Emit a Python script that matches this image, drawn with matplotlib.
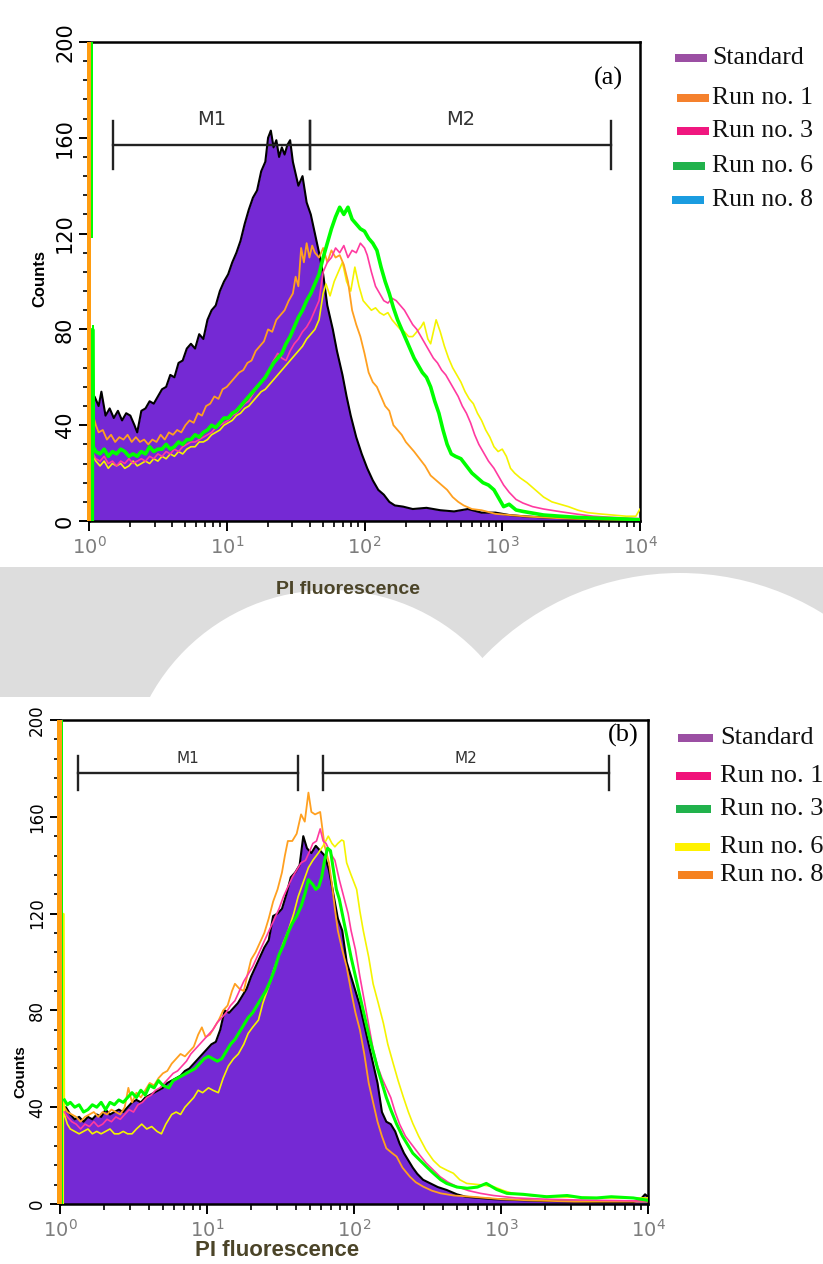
import numpy as np
import matplotlib.pyplot as plt
from matplotlib.patches import Rectangle, Ellipse
from matplotlib.ticker import MultipleLocator, LogLocator, NullFormatter

W, H = 823, 1264

# ---- panel (a) data: log10(PI fluorescence) positions and counts ----
std_a_lx = [0.02, 0.04, 0.07, 0.09, 0.12, 0.15, 0.18, 0.21, 0.24, 0.27, 0.30, 0.33, 0.35, 0.38, 0.41,
            0.44, 0.47, 0.50, 0.53, 0.56, 0.59, 0.62, 0.65, 0.68, 0.71, 0.74, 0.77, 0.80, 0.83, 0.86,
            0.89, 0.92, 0.95, 0.98, 1.01, 1.04, 1.07, 1.10, 1.13, 1.16, 1.19, 1.22, 1.25, 1.28, 1.30,
            1.32, 1.34, 1.36, 1.38, 1.40, 1.42, 1.44, 1.46, 1.48, 1.50, 1.52, 1.55, 1.58, 1.61, 1.64,
            1.67, 1.70, 1.73, 1.77, 1.80, 1.84, 1.87, 1.90, 1.94, 1.98, 2.02, 2.06, 2.10, 2.14, 2.18,
            2.22, 2.28, 2.35, 2.45, 2.55, 2.65, 2.75, 2.85, 2.95, 3.05, 3.15, 3.3, 3.5, 3.7, 3.9, 4.0]
std_a = [44, 52, 48, 54, 44, 47, 43, 46, 42, 45, 44, 40, 37, 46, 47,
         50, 49, 52, 55, 56, 61, 60, 66, 67, 72, 74, 72, 78, 76, 84,
         88, 90, 96, 100, 103, 108, 112, 117, 124, 130, 135, 138, 146, 150, 160,
         163, 156, 159, 152, 156, 153, 157, 159, 150, 145, 140, 144, 133, 128, 120,
         112, 103, 90, 80, 71, 61, 52, 44, 35, 28, 22, 17, 13, 11, 8,
         6.5, 6, 5, 5.5, 4.5, 4, 5, 3.5, 3.5, 2.5, 2, 1.5, 1, 0.6, 0.4, 0.3]

run1_a_lx = [0.03, 0.05, 0.07, 0.10, 0.13, 0.16, 0.19, 0.22, 0.25, 0.28, 0.31, 0.34, 0.37,
             0.40, 0.43, 0.46, 0.49, 0.52, 0.55, 0.58, 0.61, 0.64, 0.67, 0.70, 0.73, 0.76, 0.79, 0.82,
             0.85, 0.88, 0.91, 0.94, 0.97, 1.00, 1.03, 1.06, 1.09, 1.12, 1.15, 1.18, 1.21, 1.24, 1.27,
             1.30, 1.33, 1.36, 1.39, 1.42, 1.45, 1.48, 1.50, 1.52, 1.54, 1.56, 1.58, 1.60, 1.62, 1.64,
             1.67, 1.70, 1.73, 1.76, 1.79, 1.82, 1.85, 1.88, 1.91, 1.94, 1.97, 2.00, 2.03, 2.06, 2.09,
             2.12, 2.15, 2.18, 2.21, 2.24, 2.27, 2.30, 2.33, 2.36, 2.40, 2.44, 2.48, 2.52, 2.56, 2.60,
             2.64, 2.68, 2.72, 2.78, 2.85, 2.95, 3.05, 3.2, 3.4, 3.6, 3.8, 4.0]
run1_a = [44, 40, 37, 38, 34, 36, 33, 35, 34, 36, 33, 35, 33,
          34, 32, 34, 33, 36, 34, 37, 36, 38, 37, 40, 42, 41, 45, 44,
          48, 49, 52, 51, 55, 56, 58, 60, 62, 63, 66, 67, 71, 73, 75,
          80, 79, 84, 86, 88, 92, 95, 102, 98, 114, 108, 116, 110, 115, 112,
          110, 114, 108, 113, 110, 111, 107, 100, 88, 82, 77, 70, 62, 58, 56,
          52, 48, 46, 40, 38, 36, 33, 31, 29, 26, 23, 19, 17, 15, 13,
          10, 8, 6.5, 5, 4.5, 3, 2.5, 1.8, 1.2, 0.8, 0.6, 0.5]

run3_a_lx = [0.010, 0.012, 0.03, 0.05, 0.08, 0.11, 0.14, 0.17, 0.20, 0.23, 0.26, 0.29, 0.32, 0.35, 0.38,
             0.41, 0.44, 0.47, 0.50, 0.53, 0.56, 0.59, 0.62, 0.65, 0.68, 0.71, 0.74, 0.77, 0.80, 0.83,
             0.86, 0.89, 0.92, 0.95, 0.98, 1.01, 1.04, 1.07, 1.10, 1.13, 1.16, 1.19, 1.22, 1.25, 1.28,
             1.31, 1.34, 1.37, 1.40, 1.43, 1.46, 1.49, 1.52, 1.55, 1.58, 1.61, 1.64, 1.67, 1.70, 1.73,
             1.76, 1.79, 1.82, 1.85, 1.88, 1.91, 1.94, 1.97, 2.00, 2.02, 2.05, 2.08, 2.11, 2.14, 2.17,
             2.20, 2.23, 2.26, 2.29, 2.32, 2.35, 2.38, 2.41, 2.44, 2.47, 2.50, 2.53, 2.56, 2.59, 2.62,
             2.65, 2.68, 2.71, 2.74, 2.77, 2.80, 2.83, 2.86, 2.90, 2.94, 2.98, 3.01, 3.05, 3.10, 3.15,
             3.22, 3.30, 3.42, 3.55, 3.66, 3.8, 3.9, 4.0]
run3_a = [0, 75, 28, 26, 25, 27, 24, 25, 23, 25, 24, 26, 24, 25, 26,
          25, 27, 26, 28, 27, 29, 28, 30, 29, 31, 32, 33, 33, 34, 35,
          36, 37, 39, 40, 41, 42, 44, 45, 47, 49, 50, 53, 56, 58, 60,
          63, 67, 70, 68, 67, 71, 74, 76, 79, 81, 84, 88, 92, 104, 108,
          110, 114, 112, 115, 110, 113, 112, 116, 114, 111, 104, 98, 95, 92, 91,
          93, 92, 90, 88, 85, 82, 80, 77, 74, 71, 68, 66, 63, 61, 58,
          55, 52, 48, 45, 41, 36, 32, 29, 25, 22, 18, 15, 12, 9, 7.5,
          6, 5, 3.9, 2.8, 2, 1.5, 1.2, 1.0]

run6_a_lx = [0.024, 0.026, 0.03, 0.05, 0.08, 0.11, 0.14, 0.17, 0.20, 0.23, 0.26, 0.29, 0.32, 0.35,
             0.38, 0.41, 0.44, 0.47, 0.50, 0.53, 0.56, 0.59, 0.62, 0.65, 0.68, 0.71, 0.74, 0.77, 0.80,
             0.83, 0.86, 0.89, 0.92, 0.95, 0.98, 1.01, 1.04, 1.07, 1.10, 1.13, 1.16, 1.19, 1.22, 1.25,
             1.28, 1.31, 1.34, 1.37, 1.40, 1.43, 1.46, 1.49, 1.52, 1.55, 1.58, 1.61, 1.64, 1.67, 1.70,
             1.73, 1.76, 1.79, 1.82, 1.85, 1.88, 1.91, 1.94, 1.97, 2.00, 2.03, 2.06, 2.09, 2.12, 2.15,
             2.18, 2.21, 2.24, 2.27, 2.30, 2.33, 2.36, 2.39, 2.42, 2.45, 2.48, 2.51, 2.54, 2.57, 2.60,
             2.63, 2.66, 2.70, 2.74, 2.78, 2.82, 2.86, 2.90, 2.94, 2.98, 3.01, 3.05, 3.10, 3.15, 3.22,
             3.30, 3.42, 3.55, 3.66, 3.8, 3.9, 4.0]
run6_a = [0, 80, 31, 29, 28, 30, 27, 29, 28, 30, 29, 27, 28, 27,
          29, 28, 31, 29, 30, 30, 32, 30, 31, 33, 32, 34, 34, 36, 35,
          37, 38, 40, 39, 41, 43, 43, 45, 46, 48, 50, 52, 54, 56, 58,
          60, 63, 66, 68, 70, 74, 77, 81, 85, 88, 92, 95, 99, 103, 110,
          116, 122, 127, 131, 128, 131, 126, 124, 122, 121, 118, 116, 113, 106, 100,
          95, 89, 84, 80, 76, 72, 68, 65, 62, 60, 56, 50, 45, 38, 32,
          28, 27, 26, 23, 20, 18, 16, 15, 13, 9, 6, 7, 4.6, 4, 3.3,
          2.5, 2, 1.5, 1.2, 1, 0.8, 0.5]

run8_a_lx = [0.03, 0.05, 0.08, 0.11, 0.14, 0.17, 0.20, 0.23, 0.26, 0.29, 0.32, 0.35, 0.38,
             0.41, 0.44, 0.47, 0.50, 0.53, 0.56, 0.59, 0.62, 0.65, 0.68, 0.71, 0.74, 0.77, 0.80, 0.83,
             0.86, 0.89, 0.92, 0.95, 0.98, 1.01, 1.04, 1.07, 1.10, 1.13, 1.16, 1.19, 1.22, 1.25, 1.28,
             1.31, 1.34, 1.37, 1.40, 1.43, 1.46, 1.49, 1.52, 1.55, 1.58, 1.61, 1.64, 1.67, 1.70, 1.72,
             1.75, 1.78, 1.81, 1.84, 1.87, 1.90, 1.93, 1.96, 1.99, 2.02, 2.05, 2.08, 2.11, 2.14, 2.17,
             2.20, 2.23, 2.26, 2.29, 2.32, 2.35, 2.38, 2.41, 2.43, 2.46, 2.48, 2.50, 2.52, 2.55, 2.58,
             2.61, 2.64, 2.67, 2.70, 2.73, 2.76, 2.79, 2.82, 2.85, 2.88, 2.91, 2.94, 2.97, 3.00, 3.03,
             3.06, 3.09, 3.13, 3.18, 3.24, 3.30, 3.36, 3.42, 3.48, 3.55, 3.62, 3.70, 3.80, 3.90, 3.97, 4.0]
run8_a = [27, 25, 23, 25, 22, 24, 23, 24, 22, 23, 25, 23, 24,
          25, 24, 26, 25, 27, 26, 28, 27, 29, 28, 30, 31, 31, 33, 33,
          34, 36, 37, 38, 40, 41, 42, 44, 45, 47, 48, 50, 52, 54, 55,
          57, 59, 61, 63, 65, 67, 69, 71, 73, 76, 78, 80, 84, 95, 99,
          94, 100, 104, 108, 100, 96, 106, 98, 92, 90, 88, 89, 87, 86, 87,
          84, 82, 80, 79, 77, 77, 79, 81, 83, 76, 74, 79, 84, 79, 73,
          68, 64, 61, 58, 54, 51, 49, 45, 42, 38, 35, 31, 29, 30, 27,
          22, 20, 18, 16, 13, 10, 8, 7, 6, 4.5, 3.5, 3, 2.5, 2, 2, 5]

# off-scale first channel (left edge of the histogram): (colour, lx0, lx1, top count, bottom count)
edge_a = [("orange", -0.016, 0.018, 200, 0),
          ("green", 0.018, 0.030, 200, 118),
          ("green", 0.022, 0.034, 82, 0)]

# ---- panel (b) data ----
std_b_lx = [0.02, 0.04, 0.07, 0.10, 0.13, 0.16, 0.19, 0.22, 0.25, 0.28, 0.31, 0.34, 0.37, 0.40, 0.43,
            0.46, 0.49, 0.52, 0.55, 0.58, 0.61, 0.64, 0.67, 0.70, 0.73, 0.76, 0.79, 0.82, 0.85, 0.88,
            0.91, 0.94, 0.97, 1.00, 1.03, 1.06, 1.09, 1.12, 1.15, 1.18, 1.21, 1.24, 1.27, 1.30, 1.33,
            1.36, 1.39, 1.42, 1.45, 1.48, 1.51, 1.54, 1.57, 1.60, 1.63, 1.655, 1.68, 1.71, 1.74, 1.77,
            1.80, 1.83, 1.86, 1.89, 1.92, 1.95, 1.98, 2.01, 2.04, 2.07, 2.10, 2.13, 2.16, 2.19, 2.22,
            2.25, 2.28, 2.31, 2.34, 2.37, 2.40, 2.43, 2.47, 2.52, 2.57, 2.63, 2.70, 2.76, 2.85, 2.95,
            3.08, 3.3, 3.5, 3.7, 3.9, 3.95, 3.98, 4.0]
std_b = [38, 40, 37, 35, 36, 34, 36, 35, 37, 36, 39, 37, 38, 39, 38,
         40, 42, 43, 42, 44, 45, 46, 47, 48, 50, 51, 52, 53, 55, 56,
         58, 60, 62, 64, 66, 67, 72, 80, 79, 81, 83, 86, 89, 94, 98,
         102, 106, 109, 119, 120, 122, 128, 135, 137, 140, 152, 147, 145, 148, 146,
         144, 138, 128, 118, 113, 100, 94, 88, 82, 74, 66, 58, 50, 38, 34,
         33, 30, 25, 21, 18, 15, 12.5, 10, 8.5, 7, 5.8, 4, 3, 2.5, 2,
         1.7, 1.2, 1, 0.8, 0.8, 2, 4, 3]

run1_b_lx = [0.03, 0.05, 0.08, 0.11, 0.14, 0.17, 0.20, 0.23, 0.26, 0.29, 0.32, 0.35, 0.38, 0.41, 0.44,
             0.47, 0.50, 0.53, 0.56, 0.59, 0.62, 0.65, 0.68, 0.71, 0.74, 0.77, 0.80, 0.83, 0.86, 0.89,
             0.92, 0.95, 0.98, 1.01, 1.04, 1.07, 1.10, 1.13, 1.16, 1.19, 1.22, 1.25, 1.28, 1.31, 1.34,
             1.37, 1.40, 1.43, 1.46, 1.49, 1.52, 1.55, 1.58, 1.61, 1.64, 1.67, 1.70, 1.72, 1.745, 1.77,
             1.79, 1.81, 1.84, 1.87, 1.90, 1.93, 1.96, 1.98, 2.01, 2.04, 2.07, 2.10, 2.13, 2.16, 2.19,
             2.22, 2.25, 2.28, 2.31, 2.35, 2.40, 2.45, 2.49, 2.54, 2.585, 2.64, 2.70, 2.78, 2.86, 2.95,
             3.1, 3.3, 3.5, 3.7, 3.9, 4.0]
run1_b = [38, 36, 34, 33, 31, 33, 32, 34, 32, 33, 35, 34, 36, 35, 37,
          39, 38, 41, 42, 44, 45, 47, 48, 50, 52, 54, 55, 57, 59, 62,
          64, 66, 68, 70, 72, 75, 77, 79, 82, 84, 88, 92, 95, 98, 102,
          106, 110, 114, 118, 122, 127, 131, 135, 138, 141, 142, 146, 149, 150, 155,
          150, 149, 145, 142, 134, 127, 120, 113, 105, 94, 84, 74, 64, 57, 52,
          48, 44, 38, 33, 28, 24, 20, 17, 14, 11.3, 9, 7.2, 5.5, 4.4, 3.5,
          2.5, 2, 1.7, 1.5, 1.3, 1.2]

run3_b_lx = [0.03, 0.05, 0.07, 0.10, 0.13, 0.16, 0.19, 0.22, 0.25, 0.28, 0.31, 0.34,
             0.37, 0.40, 0.43, 0.46, 0.49, 0.52, 0.55, 0.58, 0.61, 0.64, 0.67, 0.70, 0.74, 0.77, 0.80,
             0.83, 0.86, 0.89, 0.92, 0.95, 0.98, 1.01, 1.04, 1.07, 1.10, 1.13, 1.16, 1.19, 1.22, 1.25,
             1.28, 1.31, 1.34, 1.37, 1.40, 1.43, 1.46, 1.49, 1.52, 1.55, 1.58, 1.61, 1.64, 1.67, 1.69,
             1.72, 1.74, 1.76, 1.78, 1.80, 1.82, 1.84, 1.86, 1.88, 1.90, 1.92, 1.95, 1.98, 2.01, 2.04,
             2.07, 2.10, 2.13, 2.16, 2.19, 2.22, 2.25, 2.29, 2.33, 2.36, 2.40, 2.45, 2.50, 2.54, 2.59,
             2.63, 2.70, 2.77, 2.84, 2.90, 2.97, 3.04, 3.15, 3.31, 3.45, 3.55, 3.65, 3.75, 3.90, 4.0]
run3_b = [43, 41, 42, 40, 41, 38, 39, 41, 40, 42, 39, 42,
          41, 43, 42, 44, 46, 44, 47, 45, 49, 48, 51, 49, 48, 51, 52,
          53, 54, 55, 56, 58, 60, 61, 60, 59, 60, 63, 66, 68, 71, 74,
          77, 79, 82, 85, 88, 92, 97, 103, 107, 112, 116, 119, 123, 129, 134,
          132, 130, 131, 135, 142, 147, 146, 138, 130, 126, 120, 111, 102, 94, 86,
          78, 70, 63, 56, 50, 44, 39, 33, 28, 25, 21, 18, 15, 12.7, 10,
          8.5, 7, 6.5, 7, 8.5, 6, 4.4, 4, 3, 3.5, 2.6, 2.5, 3, 2.5, 1.5]

run6_b_lx = [0.022, 0.024, 0.03, 0.05, 0.07, 0.10, 0.13, 0.16, 0.19, 0.22, 0.25, 0.28, 0.31, 0.34, 0.37,
             0.40, 0.43, 0.46, 0.49, 0.52, 0.556, 0.59, 0.624, 0.66, 0.69, 0.72, 0.76, 0.79, 0.82, 0.85,
             0.88, 0.91, 0.94, 0.97, 1.01, 1.04, 1.077, 1.11, 1.145, 1.18, 1.213, 1.25, 1.28, 1.31, 1.35,
             1.38, 1.42, 1.45, 1.485, 1.52, 1.553, 1.59, 1.62, 1.655, 1.69, 1.72, 1.757, 1.79, 1.825, 1.85,
             1.87, 1.89, 1.916, 1.93, 1.95, 1.98, 2.018, 2.04, 2.063, 2.10, 2.13, 2.165, 2.20, 2.23, 2.267,
             2.30, 2.335, 2.37, 2.40, 2.44, 2.49, 2.54, 2.585, 2.63, 2.676, 2.72, 2.767, 2.85, 2.948, 3.02,
             3.08, 3.2, 3.35, 3.5, 3.7, 3.9, 4.0]
run6_b = [0, 120, 37, 33, 31, 30, 29, 30, 31, 29, 30, 29, 30, 31, 29,
          29, 30, 29, 29, 31, 33, 31, 32, 30, 29, 33, 37, 38, 37, 40,
          42, 44, 47, 46, 48, 47, 46, 52, 57, 60, 62, 66, 70.5, 73, 76,
          83, 90, 96, 102, 108, 113, 120, 127, 133, 139, 142, 145, 148, 152, 149,
          147.6, 149, 150.4, 150, 141, 136, 130, 121, 113, 102, 91, 83, 74.7, 66, 58,
          51, 44.3, 38, 33.3, 28, 22.3, 18, 15.4, 14, 12.7, 10, 8.5, 8, 7.2, 5.5,
          4.4, 3.5, 3, 2.8, 2.5, 2.5, 2.5]

run8_b_lx = [0.03, 0.05, 0.08, 0.11, 0.14, 0.17, 0.20, 0.23, 0.26, 0.29, 0.32, 0.35, 0.38,
             0.41, 0.44, 0.465, 0.49, 0.52, 0.55, 0.58, 0.61, 0.64, 0.67, 0.70, 0.73, 0.76, 0.79, 0.82,
             0.85, 0.88, 0.91, 0.94, 0.965, 0.99, 1.02, 1.05, 1.08, 1.11, 1.14, 1.17, 1.19, 1.22, 1.25,
             1.28, 1.30, 1.33, 1.36, 1.39, 1.42, 1.45, 1.48, 1.51, 1.53, 1.55, 1.58, 1.61, 1.64, 1.665,
             1.69, 1.71, 1.735, 1.77, 1.80, 1.83, 1.85, 1.87, 1.89, 1.92, 1.95, 1.98, 2.01, 2.04, 2.07,
             2.10, 2.13, 2.16, 2.19, 2.22, 2.26, 2.29, 2.33, 2.38, 2.42, 2.47, 2.53, 2.59, 2.68, 2.8,
             3.0, 3.2, 3.5, 3.8, 4.0]
run8_b = [40, 38, 37, 36, 34, 36, 37, 38, 36, 38, 37, 39, 38,
          37, 40, 48, 42, 46, 44, 47, 50, 49, 52, 54, 55, 58, 60, 62,
          61, 63, 65, 70, 73, 69, 70, 73, 76, 80, 82, 88, 91, 89, 88,
          96, 101, 104, 108, 112, 118, 125, 130, 137, 144, 150, 150, 153, 161, 158,
          170, 162, 161, 162, 148, 141, 132, 122, 113, 105, 98, 88, 79, 72, 62,
          50, 42, 34, 28, 23, 21, 19.6, 15, 11.3, 9, 7.2, 5.5, 4.4, 3.5, 3,
          2, 1.5, 1, 1, 1]

edge_b = [("orange", -0.022, 0.012, 200, 0),
          ("green", 0.012, 0.022, 200, 0)]

# gate markers (x range in PI units)
gates_a = {"M1": (1.49, 40.2), "M2": (40.2, 6150)}
gates_b = {"M1": (1.33, 41.6), "M2": (61.5, 5430)}

legend_a = ["Standard", "Run no. 1", "Run no. 3", "Run no. 6", "Run no. 8"]
legend_a_colors = ["#9b4fa3", "#f5812d", "#f0177f", "#21b24c", "#1a9ce0"]
legend_b = ["Standard", "Run no. 1", "Run no. 3", "Run no. 6", "Run no. 8"]
legend_b_colors = ["#9b4fa3", "#f0127a", "#21b24c", "#fff200", "#f58220"]

PURPLE = "#7529d4"
ORANGE = "#ffa020"
PINK = "#ff3aa0"
GREEN = "#00ff00"
YELLOW = "#f4f400"
EDGE_COLORS = {"orange": "#ff9c10", "green": GREEN}
WATERMARK = "#dddddd"


def fx(x):
    return x / W


def fy(y):
    return 1 - y / H


fig = plt.figure(figsize=(W / 100, H / 100), dpi=100)
fig.patch.set_facecolor("white")

# faint watermark band between the two panels (two white domes cut into it)
fig.add_artist(Rectangle((0, fy(697)), 1, (697 - 567) / H, transform=fig.transFigure,
                         color=WATERMARK, lw=0, zorder=-3))
for cx, cy, r in [(330, 795, 205), (680, 845, 272)]:
    fig.add_artist(Ellipse((fx(cx), fy(cy)), 2 * r / W, 2 * r / H, transform=fig.transFigure,
                           color="white", lw=0, zorder=-2))
fig.add_artist(Rectangle((0, 0), 1, fy(697), transform=fig.transFigure,
                         color="white", lw=0, zorder=-1))


def setup_axes(ax, ylabsize, xlabsize):
    ax.set_xscale("log")
    ax.set_xlim(1, 1e4)
    ax.set_ylim(0, 200)
    ax.yaxis.set_major_locator(MultipleLocator(40))
    ax.yaxis.set_minor_locator(MultipleLocator(8))
    ax.xaxis.set_minor_locator(LogLocator(base=10, subs=np.arange(2, 10), numticks=20))
    ax.xaxis.set_minor_formatter(NullFormatter())
    ax.set_xticks([1, 10, 100, 1000, 10000])
    ax.set_xticklabels([r"$10^{0}$", r"$10^{1}$", r"$10^{2}$", r"$10^{3}$", r"$10^{4}$"],
                       color="#7d7d7d", fontsize=xlabsize)
    ax.tick_params(axis="both", which="major", direction="out", length=7, width=1.4)
    ax.tick_params(axis="both", which="minor", direction="out", length=4, width=1.2)
    ax.tick_params(axis="y", labelrotation=90, labelsize=ylabsize, pad=3)
    for lab in ax.get_yticklabels():
        lab.set_verticalalignment("center")
    for sp in ax.spines.values():
        sp.set_linewidth(1.8)
    ax.set_facecolor("white")


def draw_panel(ax, std_lx, std, runs, edges, gates, gate_y, cap, label_y, mfont):
    x = 10 ** np.array(std_lx)
    ax.fill_between(x, std, 0, color=PURPLE, lw=0, zorder=2)
    ax.plot(x, std, color="black", lw=1.5, zorder=3)
    for lx, vals, col, lw in runs:
        ax.plot(10 ** np.array(lx), vals, color=col, lw=lw, zorder=4)
    for col, l0, l1, top, bot in edges:
        ax.fill_between([10 ** l0, 10 ** l1], [top, top], [bot, bot], color=EDGE_COLORS[col],
                        lw=0, zorder=4.5, clip_on=False)
    for name, (x0, x1) in gates.items():
        ax.plot([x0, x1], [gate_y, gate_y], color="#222222", lw=1.7, zorder=5)
        ax.plot([x0, x0], [gate_y - cap, gate_y + cap], color="#222222", lw=1.7, zorder=5)
        ax.plot([x1, x1], [gate_y - cap, gate_y + cap], color="#222222", lw=1.7, zorder=5)
        xm = 10 ** ((np.log10(x0) + np.log10(x1)) / 2)
        ax.text(xm, label_y, name, ha="center", va="center",
                fontsize=mfont, color="#333333", family="DejaVu Sans", zorder=5)


def draw_legend(labels, colors, rows, patch_x0, patch_x1, text_x, size):
    for lab, col, (yy, dx) in zip(labels, colors, rows):
        fig.add_artist(Rectangle((fx(patch_x0 + dx), fy(yy + 4)), (patch_x1 - patch_x0) / W, 8 / H,
                                 transform=fig.transFigure, color=col, lw=0))
        fig.text(fx(text_x), fy(yy), lab, fontsize=size, family="Liberation Serif",
                 ha="left", va="center", color="#111111")


# ---- panel (a) ----
ax1 = fig.add_axes([fx(89), fy(521), (640 - 89) / W, (521 - 42) / H])
setup_axes(ax1, 15, 14)
draw_panel(ax1, std_a_lx, std_a,
           [(run8_a_lx, run8_a, YELLOW, 1.2),
            (run1_a_lx, run1_a, ORANGE, 1.3),
            (run3_a_lx, run3_a, PINK, 1.2),
            (run6_a_lx, run6_a, GREEN, 2.6)],
           edge_a, gates_a, 157, 10, 167.5, 14)
fig.text(fx(608), fy(78), "(a)", fontsize=19, family="Liberation Serif", ha="center", va="center")
fig.text(fx(40), fy(278), "Counts", fontsize=12, fontweight="bold", rotation=90,
         ha="center", va="center", family="Liberation Sans")
fig.text(fx(348), fy(590), "PI fluorescence", fontsize=14, fontweight="bold",
         color="#4b4428", ha="center", va="center", family="Liberation Sans")
draw_legend(legend_a, legend_a_colors,
            [(58, 0), (98, 2), (131, 2), (166, -2), (200, -3)],
            675, 707, 712, 18.5)

# ---- panel (b) ----
ax2 = fig.add_axes([fx(60), fy(1204), (648 - 60) / W, (1204 - 720) / H])
setup_axes(ax2, 12, 14)
draw_panel(ax2, std_b_lx, std_b,
           [(run8_b_lx, run8_b, ORANGE, 1.3),
            (run6_b_lx, run6_b, YELLOW, 1.2),
            (run1_b_lx, run1_b, PINK, 1.2),
            (run3_b_lx, run3_b, GREEN, 2.2)],
           edge_b, gates_b, 178, 7, 184, 11)
fig.text(fx(623), fy(735), "(b)", fontsize=19, family="Liberation Serif", ha="center", va="center")
fig.text(fx(20), fy(1072), "Counts", fontsize=11, fontweight="bold", rotation=90,
         ha="center", va="center", family="Liberation Sans")
fig.text(fx(277), fy(1251), "PI fluorescence", fontsize=16, fontweight="bold",
         color="#4b4428", ha="center", va="center", family="Liberation Sans")
draw_legend(legend_b, legend_b_colors,
            [(738, 0), (776, -2), (809, -2), (847, -3), (875, 0)],
            678, 713, 720, 19)

fig.savefig("out.png", dpi=100)
